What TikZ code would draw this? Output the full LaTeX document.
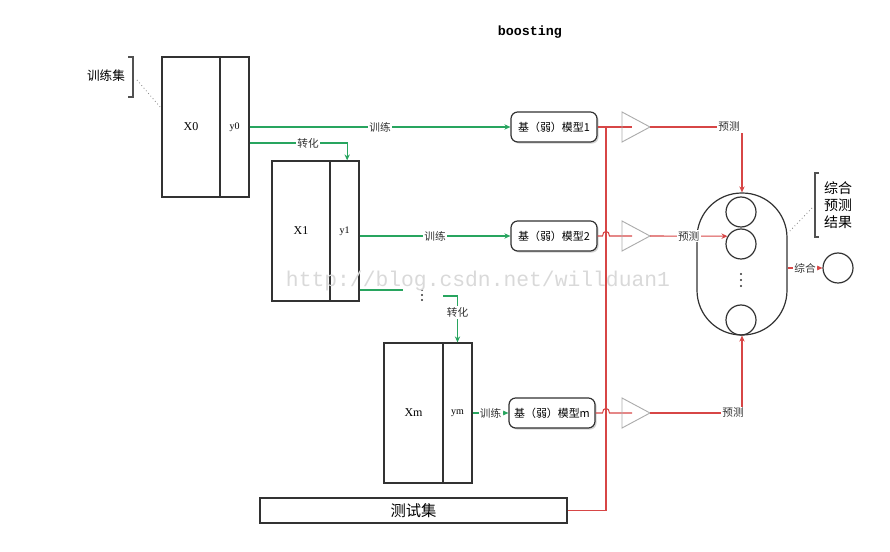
\documentclass[tikz,border=0pt]{standalone}
\usepackage{fontspec}
\setmainfont{Liberation Serif}
\newfontfamily\cjk{Noto Sans CJK SC}
\newfontfamily\monof{Liberation Mono}
\usetikzlibrary{shadows,arrows.meta}
\definecolor{gline}{RGB}{40,165,95}
\definecolor{rline}{RGB}{215,70,70}
\definecolor{boxc}{RGB}{50,50,50}
\begin{document}
\begin{tikzpicture}[x=0.75pt,y=-0.75pt,
  databox/.style={draw=boxc, line width=0.9pt, minimum height=105pt, inner sep=0pt, font=\fontsize{9}{10}\selectfont},
  ybox/.style={databox, minimum width=21.75pt, font=\fontsize{7.5}{9}\selectfont},
  xbox/.style={databox, minimum width=43.5pt},
  model/.style={draw=boxc, line width=0.9pt, rounded corners=5pt, minimum width=64.5pt, minimum height=22.5pt, fill=white, drop shadow={shadow xshift=1.2pt, shadow yshift=-1.2pt, opacity=0.35}, font=\cjk\fontsize{8.2}{9}\selectfont, inner sep=1pt},
  gl/.style={draw=gline, line width=0.8pt},
  garrow/.style={gl, -{Stealth[length=4.5pt,width=4pt]}},
  rl/.style={draw=rline, line width=0.8pt},
  rarrow/.style={rl, -{Stealth[length=4.5pt,width=4pt]}},
  lab/.style={font=\cjk\fontsize{8}{9}\selectfont, fill=white, inner sep=1pt, text=black!80},
  tri/.style={draw=gray!65, line width=0.7pt},
  circ/.style={circle, draw=boxc, line width=0.9pt, minimum size=22.5pt, inner sep=0pt}]
\useasboundingbox (0,0) rectangle (890,552);

% title
\node[font=\monof\bfseries\fontsize{10}{12}\selectfont] (title) at (530,32) {boosting};

% training set bracket
\node[font=\cjk\fontsize{9.5}{11}\selectfont] (trainset) at (106,76) {训练集};
\draw[boxc!85, line width=0.8pt] (128,57) -- (133,57) -- (133,97) -- (128,97);
\draw[dotted, gray, line width=0.6pt] (137,80) -- (161,108);

% data boxes
\node[xbox] (x0) at (191,127) {X0};
\node[ybox] (y0) at (234.5,127) {y0};
\node[xbox] (x1) at (301,231) {X1};
\node[ybox] (y1) at (344.5,231) {y1};
\node[xbox, minimum width=44.25pt] (xm) at (413.5,413) {Xm};
\node[ybox] (ym) at (457.5,413) {ym};

% test set
\node[draw=boxc, line width=0.9pt, minimum width=230.25pt, minimum height=18.75pt, inner sep=0pt, font=\cjk\fontsize{11.5}{13}\selectfont] (test) at (413.5,510.5) {测试集};

% models
\node[model] (m1) at (554,127) {基（弱）模型1};
\node[model] (m2) at (554,236) {基（弱）模型2};
\node[model] (mm) at (552,413) {基（弱）模型m};

% green connectors
\draw[garrow] (y0.east) -- node[lab]{训练} (m1.west);
\draw[garrow] ([yshift=-12pt]y0.east) -| node[lab, pos=0.3]{转化} ([xshift=2pt]y1.north);
\draw[garrow] (y1.east |- m2.west) -- node[lab]{训练} (m2.west);
\coordinate (g1) at (403,290);
\draw[gl] (y1.east |- g1) -- (g1);
\fill[black!80] (422,290) circle (0.9pt) (422,295) circle (0.9pt) (422,300) circle (0.9pt);
\coordinate (g2) at (443,296);
\draw[garrow] (g2) -| node[lab, pos=0.68]{转化} (ym.north);
\draw[garrow] (ym.east) -- node[lab]{训练} (mm.west);

% triangles
\coordinate (t1i) at (632,127); \coordinate (t1o) at (650,127);
\coordinate (t2i) at (632,236); \coordinate (t2o) at (650,236);
\coordinate (t3i) at (632,413); \coordinate (t3o) at (650,413);

% red connectors
\coordinate (j) at (606,127);
\draw[rl] (m1.east) -- (t1i);
\draw[rl] (test.east) -| (j);
\draw[rl] (m2.east) -- (602.5,236) .. controls (602.5,230) and (609.5,230) .. (609.5,236) -- (t2i);
\draw[rl] (mm.east) -- (602.5,413) .. controls (602.5,407) and (609.5,407) .. (609.5,413) -- (t3i);

\draw[tri] (622,112) -- (t1o) -- (622,142) -- cycle;
\draw[tri] (622,221) -- (t2o) -- (622,251) -- cycle;
\draw[tri] (622,398) -- (t3o) -- (622,428) -- cycle;

% ensemble capsule
\node[draw=boxc, line width=0.9pt, rounded corners=33.5pt, minimum width=67.5pt, minimum height=106.5pt, inner sep=0pt] (cap) at (742,264) {};
\node[circ] (c1) at (741,212) {};
\node[circ] (c2) at (741,244) {};
\node[circ] (c3) at (741,320) {};
\fill[black!80] (741,274) circle (0.9pt) (741,280) circle (0.9pt) (741,286) circle (0.9pt);

\node[lab] (p1) at (729,127) {预测};
\draw[rl] (t1o) -- (p1.west);
\draw[rarrow] (p1.south -| cap.north) -- (cap.north);
\draw[rarrow] (t2o) -- node[lab, pos=0.5]{预测} (c2.150);
\node[lab] (p3) at (733,413) {预测};
\draw[rl] (t3o) -- (p3.west);
\draw[rarrow] (p3.north -| cap.south) -- (cap.south);

% final result
\node[circ] (f) at (838,268) {};
\draw[rarrow] (cap.east |- f.west) -- node[lab]{综合} (f.west);
\draw[boxc!85, line width=0.8pt] (819,173) -- (815,173) -- (815,237) -- (819,237);
\node[font=\cjk\fontsize{10.5}{12.75}\selectfont, align=left, inner sep=0pt] (res) at (838,205) {综合\\预测\\结果};
\draw[dotted, gray, line width=0.6pt] (812,208) -- (788,233);

% watermark
\node[font=\monof\fontsize{16}{16}\selectfont, text=gray!30, inner sep=0pt] (wm) at (478,281) {http://blog.csdn.net/willduan1};
\end{tikzpicture}
\end{document}
